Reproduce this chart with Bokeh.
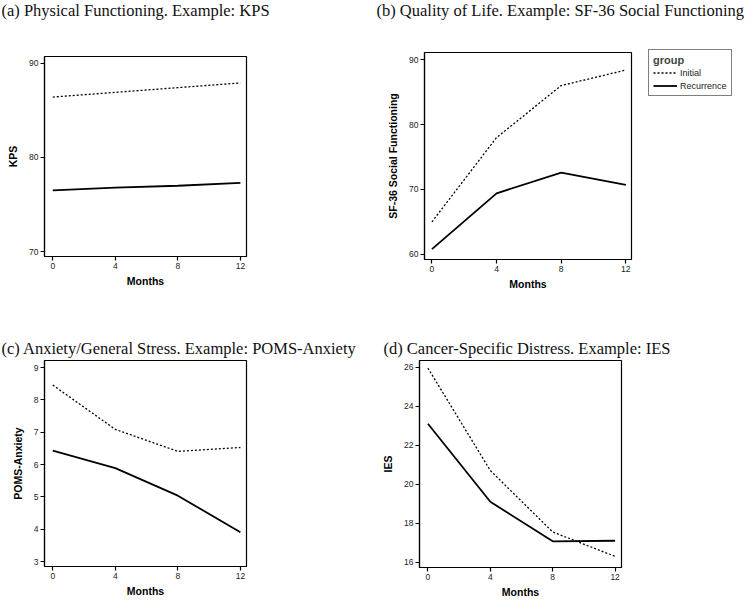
from bokeh.plotting import figure
from bokeh.layouts import column, row
from bokeh.models import Range1d, FixedTicker, Legend, LegendItem, Label
from bokeh.embed import file_html
from bokeh.resources import INLINE

months = [0, 4, 8, 12]
month_ticks = [0, 4, 8, 12]

kps_initial = [86.4, 86.9, 87.4, 87.9]
kps_recurrence = [76.5, 76.8, 77.0, 77.3]
kps_ticks = [70, 80, 90]

sf36_initial = [65.0, 78.0, 86.0, 88.4]
sf36_recurrence = [60.8, 69.4, 72.6, 70.7]
sf36_ticks = [60, 70, 80, 90]

poms_initial = [8.46, 7.09, 6.41, 6.53]
poms_recurrence = [6.43, 5.89, 5.04, 3.91]
poms_ticks = [3, 4, 5, 6, 7, 8, 9]

ies_initial = [25.95, 20.7, 17.55, 16.3]
ies_recurrence = [23.1, 19.1, 17.07, 17.1]
ies_ticks = [16, 18, 20, 22, 24, 26]

titles = [
    "(a) Physical Functioning. Example: KPS",
    "(b) Quality of Life. Example: SF-36 Social Functioning",
    "(c) Anxiety/General Stress. Example: POMS-Anxiety",
    "(d) Cancer-Specific Distress. Example: IES",
]
ylabels = ["KPS", "SF-36 Social Functioning", "POMS-Anxiety", "IES"]
group_labels = ["Initial", "Recurrence"]

SANS = "Liberation Sans"
SERIF = "Liberation Serif"
DASH = "2 2"


def blank(w, h):
    p = figure(width=w, height=h, output_backend="svg", toolbar_location=None,
               x_range=Range1d(0, w), y_range=Range1d(0, h),
               x_axis_type=None, y_axis_type=None,
               min_border=0, min_border_left=0, min_border_right=0,
               min_border_top=0, min_border_bottom=0)
    p.outline_line_color = None
    p.background_fill_color = "white"
    p.border_fill_color = "white"
    return p


def title_fig(text, w, h, tx, ty):
    p = blank(w, h)
    p.add_layout(Label(x=tx, y=ty, text=text, text_align="left",
                       text_baseline="middle", text_font=SERIF,
                       text_font_size="16.5px", text_color="#111111"))
    return p


def make_panel(ylabel, y_init, y_rec, xr, yr, yticks, w, h, borders):
    l, r, t, b = borders
    p = figure(width=w, height=h, output_backend="svg", toolbar_location=None,
               x_range=Range1d(*xr), y_range=Range1d(*yr),
               min_border_left=l, min_border_right=r,
               min_border_top=t, min_border_bottom=b)
    p.grid.visible = False
    p.outline_line_color = "black"
    p.outline_line_width = 1.2
    p.background_fill_color = "white"
    p.border_fill_color = "white"
    for ax in (p.xaxis[0], p.yaxis[0]):
        ax.axis_line_color = "black"
        ax.axis_line_width = 1.2
        ax.major_tick_line_color = "black"
        ax.major_tick_line_width = 1.2
        ax.major_tick_in = 0
        ax.major_tick_out = 4
        ax.minor_tick_line_color = None
        ax.major_label_text_font = SANS
        ax.major_label_text_font_size = "8.5px"
        ax.major_label_text_color = "#222222"
        ax.major_label_standoff = 2
        ax.axis_label_text_font = SANS
        ax.axis_label_text_font_size = "10.5px"
        ax.axis_label_text_font_style = "bold"
        ax.axis_label_text_color = "black"
    p.xaxis[0].ticker = FixedTicker(ticks=month_ticks)
    p.yaxis[0].ticker = FixedTicker(ticks=yticks)
    p.xaxis[0].axis_label = "Months"
    p.yaxis[0].axis_label = ylabel
    p.xaxis[0].axis_label_standoff = 3
    p.yaxis[0].axis_label_standoff = 7

    p.line(months, y_init, line_color="black", line_width=1.3, line_dash=DASH)
    p.line(months, y_rec, line_color="black", line_width=1.8)
    return p


def legend_fig(w, h, lx, ly):
    p = blank(w, h)
    # legend-only renderers: their points lie outside this figure's ranges
    r1 = p.line(x=[-60, -50], y=[-60, -60], line_color="black",
                line_width=1.3, line_dash=DASH)
    r2 = p.line(x=[-60, -50], y=[-70, -70], line_color="black",
                line_width=1.8)
    lg = Legend(items=[LegendItem(label=group_labels[0], renderers=[r1]),
                       LegendItem(label=group_labels[1], renderers=[r2])],
                location=(lx, ly), title="group",
                title_text_font=SANS, title_text_font_size="11px",
                title_text_font_style="bold", title_standoff=1,
                label_text_font=SANS, label_text_font_size="9px",
                label_text_color="#222222",
                label_height=11, glyph_height=11, glyph_width=24,
                label_standoff=3, spacing=2, padding=4, margin=0,
                border_line_color="black", border_line_width=1,
                background_fill_color="white")
    p.add_layout(lg, "center")
    return p


# row 1
ta = title_fig(titles[0], 373, 22, 1, 12)
tb = title_fig(titles[1], 373, 22, 3, 12)
pa = make_panel(ylabels[0], kps_initial, kps_recurrence,
                (-0.53, 12.39), (69.5, 90.7), kps_ticks, 373, 278,
                (44, 127, 34, 44))
pb = make_panel(ylabels[1], sf36_initial, sf36_recurrence,
                (-0.46, 12.35), (59.2, 91.1), sf36_ticks, 260, 278,
                (51, 2, 30, 41))
pl = legend_fig(113, 278, 15, 204)

# row 2
tc = title_fig(titles[2], 373, 58, 1, 10)
td = title_fig(titles[3], 373, 58, 10, 10)
pc = make_panel(ylabels[2], poms_initial, poms_recurrence,
                (-0.53, 12.39), (2.85, 9.22), poms_ticks, 373, 242,
                (44, 127, 2, 34))
pd_ = make_panel(ylabels[3], ies_initial, ies_recurrence,
                 (-0.54, 12.41), (15.73, 26.34), ies_ticks, 373, 242,
                 (46, 125, 2, 33))

layout = column(
    row(column(ta), column(tb)),
    row(column(pa), column(pb), column(pl)),
    row(column(tc), column(td)),
    row(column(pc), column(pd_)),
)
open("out.html", "w").write(file_html(layout, INLINE))
